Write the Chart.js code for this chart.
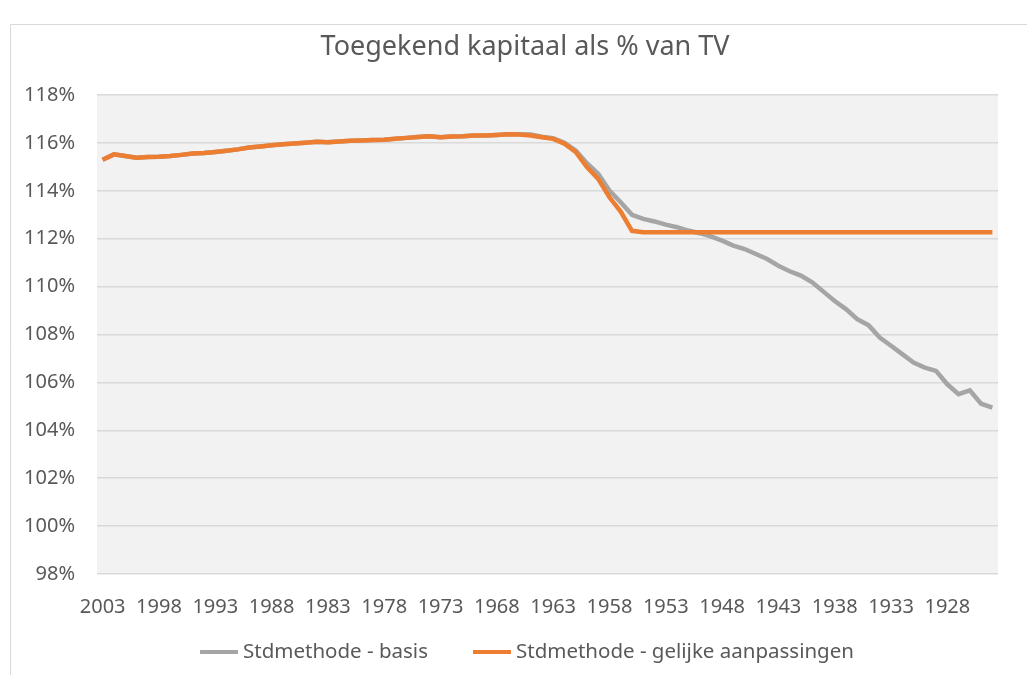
<!DOCTYPE html>
<html>
<head>
<meta charset="utf-8">
<script src="https://cdn.jsdelivr.net/npm/chart.js@4/dist/chart.umd.min.js"></script>
<style>
  html, body { margin: 0; padding: 0; background: #fff; }
  #wrap { width: 1027px; height: 675px; }
</style>
</head>
<body>
<div id="wrap"><canvas id="grafiek" width="1027" height="675"></canvas></div>
<script>
// jaren van 2003 terug tot 1924
const jaren = [];
for (let j = 2003; j >= 1924; j--) jaren.push(String(j));

const basis = [
  115.30, 115.52, 115.45, 115.38, 115.41, 115.42, 115.45, 115.50, 115.56, 115.58,
  115.62, 115.67, 115.73, 115.81, 115.85, 115.90, 115.94, 115.97, 116.01, 116.05,
  116.03, 116.06, 116.09, 116.10, 116.12, 116.13, 116.17, 116.21, 116.25, 116.28,
  116.24, 116.27, 116.28, 116.31, 116.31, 116.33, 116.36, 116.36, 116.35, 116.26,
  116.20, 116.01, 115.69, 115.15, 114.71, 114.01, 113.52, 113.00, 112.83, 112.72,
  112.59, 112.48, 112.34, 112.23, 112.10, 111.92, 111.71, 111.57, 111.36, 111.15,
  110.87, 110.64, 110.46, 110.18, 109.79, 109.40, 109.06, 108.64, 108.39, 107.87,
  107.53, 107.18, 106.83, 106.62, 106.48, 105.92, 105.51, 105.67, 105.11, 104.95
];

const gelijk = [
  115.30, 115.52, 115.45, 115.38, 115.41, 115.42, 115.45, 115.50, 115.56, 115.58,
  115.62, 115.67, 115.73, 115.81, 115.85, 115.90, 115.94, 115.97, 116.01, 116.05,
  116.03, 116.06, 116.09, 116.10, 116.12, 116.13, 116.17, 116.21, 116.25, 116.28,
  116.24, 116.27, 116.28, 116.31, 116.31, 116.33, 116.36, 116.35, 116.31, 116.24,
  116.17, 115.97, 115.62, 114.99, 114.50, 113.73, 113.13, 112.33, 112.27, 112.27,
  112.27, 112.27, 112.27, 112.27, 112.27, 112.27, 112.27, 112.27, 112.27, 112.27,
  112.27, 112.27, 112.27, 112.27, 112.27, 112.27, 112.27, 112.27, 112.27, 112.27,
  112.27, 112.27, 112.27, 112.27, 112.27, 112.27, 112.27, 112.27, 112.27, 112.27
];

const yTicks = [98, 100, 102, 104, 106, 108, 110, 112, 114, 116, 118];

const titel = 'Toegekend kapitaal als % van TV';
const tekstKleur = '#595959';
const lettertype = "'Noto Sans', sans-serif";

// witte achtergrond, rand en grijs plotvlak
const achtergrond = {
  id: 'achtergrond',
  beforeDraw(chart) {
    const c = chart.ctx;
    const a = chart.chartArea;
    c.save();
    c.fillStyle = '#ffffff';
    c.fillRect(0, 0, chart.width, chart.height);
    c.strokeStyle = '#d9d9d9';
    c.lineWidth = 1;
    c.beginPath();
    c.moveTo(10.5, chart.height);
    c.lineTo(10.5, 24.5);
    c.lineTo(chart.width, 24.5);
    c.stroke();
    c.fillStyle = '#f2f2f2';
    c.fillRect(a.left, a.top, a.right - a.left, a.bottom - a.top);
    c.restore();
  }
};

// titel en legenda, zelf getekend zodat ze midden in het kader staan
const tekstjes = {
  id: 'tekstjes',
  afterDraw(chart) {
    const c = chart.ctx;
    c.save();
    c.fillStyle = tekstKleur;
    c.textBaseline = 'middle';
    c.textAlign = 'center';
    c.font = '27px ' + lettertype;
    c.fillText(titel, 525, 47);

    const sets = chart.data.datasets;
    const lijn = 38, gat = 5, tussen = 45, y = 652, midden = 527;
    c.textAlign = 'left';
    c.font = '20.5px ' + lettertype;
    const breedtes = sets.map(d => c.measureText(d.label).width);
    let totaal = 0;
    breedtes.forEach((b, i) => { totaal += lijn + gat + b + (i ? tussen : 0); });
    let x = midden - totaal / 2;
    sets.forEach((d, i) => {
      c.strokeStyle = d.borderColor;
      c.lineWidth = 4;
      c.beginPath();
      c.moveTo(x, y);
      c.lineTo(x + lijn, y);
      c.stroke();
      c.fillText(d.label, x + lijn + gat, y);
      x += lijn + gat + breedtes[i] + tussen;
    });
    c.restore();
  }
};

new Chart(document.getElementById('grafiek').getContext('2d'), {
  type: 'line',
  data: {
    labels: jaren,
    datasets: [{
      label: 'Stdmethode - basis',
      data: basis,
      borderColor: '#a5a5a5',
      backgroundColor: '#a5a5a5',
      borderWidth: 4.5,
      pointRadius: 0,
      tension: 0,
      order: 1
    }, {
      label: 'Stdmethode - gelijke aanpassingen',
      data: gelijk,
      borderColor: '#ed7d31',
      backgroundColor: '#ed7d31',
      borderWidth: 4.5,
      pointRadius: 0,
      tension: 0,
      order: 0
    }]
  },
  options: {
    responsive: false,
    animation: false,
    layout: { padding: { left: 0, right: 29, top: 95, bottom: 35 } },
    plugins: {
      title: { display: false },
      legend: { display: false },
      tooltip: { enabled: false }
    },
    scales: {
      x: {
        offset: true,
        grid: { display: false, drawTicks: false },
        border: { display: false },
        ticks: {
          autoSkip: false,
          maxRotation: 0,
          padding: 21,
          color: tekstKleur,
          font: { family: lettertype, size: 20 },
          callback: function (v, i) { return i % 5 === 0 ? jaren[i] : null; }
        }
      },
      y: {
        min: 98,
        max: 118,
        afterBuildTicks: s => { s.ticks = yTicks.map(v => ({ value: v })); },
        afterFit: s => { s.width = 97; },
        grid: { color: '#d9d9d9', lineWidth: 1.5, drawTicks: false },
        border: { display: false },
        ticks: {
          padding: 22,
          color: tekstKleur,
          font: { family: lettertype, size: 20 },
          callback: v => v + '%'
        }
      }
    }
  },
  plugins: [achtergrond, tekstjes]
});
</script>
</body>
</html>
